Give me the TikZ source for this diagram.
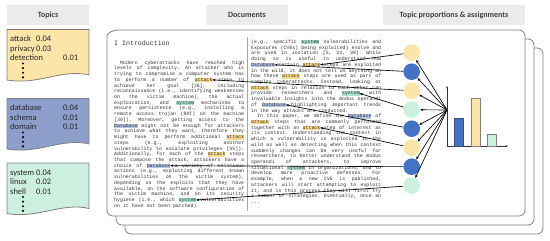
\documentclass[tikz,border=0pt]{standalone}
\usepackage{fontspec}
\setmainfont{Carlito}
\newfontfamily\monofont{Liberation Mono}
\usetikzlibrary{arrows.meta}

\definecolor{yellowT}{HTML}{FCE5A8}
\definecolor{blueT}{HTML}{4472C4}
\definecolor{mintT}{HTML}{CDEFDF}
\definecolor{slateT}{HTML}{8E9ECB}
\definecolor{hdrgray}{HTML}{EBEBEB}
\definecolor{cardline}{HTML}{7F7F7F}
\definecolor{hlyellow}{HTML}{F9D98A}
\definecolor{hlblue}{HTML}{B3C6E8}
\definecolor{hlgreen}{HTML}{A8E2C8}

\newlength\colw
\setlength\colw{130pt}
\newcommand\docfont{\monofont\fontsize{4.9pt}{5.7pt}\selectfont\frenchspacing\spaceskip=2.94pt plus 20pt minus 0.8pt\relax}
\newcommand\hlY[1]{{\setlength\fboxsep{0pt}\colorbox{hlyellow}{\rule[-1pt]{0pt}{4.6pt}#1}}}
\newcommand\hlB[1]{{\setlength\fboxsep{0pt}\colorbox{hlblue}{\rule[-1pt]{0pt}{4.6pt}#1}}}
\newcommand\hlG[1]{{\setlength\fboxsep{0pt}\colorbox{hlgreen}{\rule[-1pt]{0pt}{4.6pt}#1}}}

\begin{document}
\begin{tikzpicture}[x=1pt, y=-1pt,
    hdrbox/.style={fill=hdrgray, minimum width=82, minimum height=20, inner sep=0, text=black!75, font=\bfseries\fontsize{8}{9}\selectfont},
    card/.style={draw=cardline, line width=0.8pt},
    cardtxt/.style={anchor=base west, inner sep=0, text=black!85, font=\fontsize{8.5}{10}\selectfont},
    page/.style={draw=cardline, line width=0.8pt, fill=white},
    docline/.style={anchor=base west, inner sep=0, text=black!80, font=\docfont},
    tdot/.style={circle, minimum size=16.6, inner sep=0},
    link/.style={-{Stealth[length=3.2pt, width=2.6pt]}, line width=0.65pt},
    axis/.style={-{Stealth[length=2.6pt, width=2.2pt]}, line width=0.6pt, black!80}]

\useasboundingbox (0,0) rectangle (550,241);

% headers
\node[hdrbox] (hTopics) at (48,15) {Topics};
\node[hdrbox] (hDocs) at (247,15) {Documents};
\node[hdrbox, minimum width=142] (hProp) at (454,15) {Topic proportions \& assignments};

% topic cards
\foreach \yt/\col/\words [count=\k] in {29.5/yellowT/{attack/36/0.04,privacy/36/0.03,detection/63/0.01},
    98.5/slateT/{database/63/0.04,schema/63/0.01,domain/63/0.01},
    163/mintT/{system/36/0.04,linux/36/0.02,shell/36/0.01}} {
  \draw[card, fill=\col] (7,\yt) -- (89,\yt) -- (89,\yt+45.5) .. controls (62,\yt+39) and (38,\yt+56) .. (7,\yt+50.5) -- cycle;
  \foreach \w/\xn/\p [count=\j] in \words {
    \node[cardtxt] (w\k\j) at (10,{\yt+12+(\j-1)*9.5}) {\w};
    \node[cardtxt] (p\k\j) at (\xn,{\yt+12+(\j-1)*9.5}) {\p};
  }
  \foreach \j in {0,...,3}
    \fill (23,{\yt+34+\j*4.6}) circle (1.2);
}

% document stack
\draw[page, rounded corners=6] (125,48) rectangle (543,234);
\draw[page, rounded corners=6] (116,39) rectangle (534,225);
\draw[page] (107,42) .. controls (107,34) and (111,30) .. (119,30) [rounded corners=6] -- (525,30) -- (525,216) -- (107,216) -- cycle;
\draw[black!35, line width=0.6pt] (247,37) -- (247,211);

\node[docline, font=\monofont\fontsize{6.6pt}{8pt}\selectfont] (intro) at (114,45.5) {I Introduction};

% left column
\foreach \t [count=\i] in {
    {\hspace*{6pt}Modern cyberattacks have reached high},
    {levels of complexity. An attacker who is},
    {trying to compromise a computer system has},
    {to perform a number of \hlY{attack} steps to},
    {achieve her goal [26], including},
    {reconnaissance (i.e., identifying weaknesses},
    {on the victim machine), the actual},
    {exploitation, and \hlG{system} mechanisms to},
    {ensure persistence (e.g., installing a},
    {remote access trojan (RAT) on the machine},
    {[30]). Moreover, getting access to the},
    {\hlB{Database} might not be enough for attackers},
    {to achieve what they want, therefore they},
    {might have to perform additional \hlY{attack}},
    {steps (e.g., exploiting another},
    {vulnerability to escalate privileges [35]).},
    {Additionally, for each of the \hlY{attack} steps},
    {that compose the attack, attackers have a},
    {choice of \hlB{Database} a variety of malicious},
    {actions (e.g., exploiting different known},
    {vulnerabilities on the victim system),},
    {depending on the exploits that they have},
    {available, on the software configuration of},
    {the victim machine, and on its security},
    {hygiene (i.e., which \hlG{system} vulnerabilities},
    {on it have not been patched).\hfill}}
  \node[docline] (L\i) at (114,{64.2+(\i-1)*5.72}) {\makebox[\colw][s]{\t}};

% right column
\foreach \t [count=\i] in {
    {(e.g., specific \hlG{system} Vulnerabilities and},
    {Exposures (CVEs) being exploited) evolve and},
    {are used in isolation [5, 33, 39]. While},
    {doing so is useful to understand how},
    {\hlB{Database} certain \hlY{attack} steps are exploited},
    {in the wild, it does not tell us anything on},
    {how these \hlY{attack} steps are used as part of},
    {complex cyberattacks. Instead, looking at},
    {\hlY{attack} steps in relation to each other can},
    {provide researchers and \hlG{system} with},
    {invaluable insights into the modus operandi},
    {of \hlB{Database} highlighting important trends},
    {in the way attacks are conducted.\hfill},
    {\hspace*{6pt}In this paper, we define the \hlB{Database} of},
    {\hlY{attack} steps that are commonly performed},
    {together with an \hlY{attack} step of interest as},
    {its context. Understanding the context in},
    {which a vulnerability is exploited in the},
    {wild as well as detecting when this context},
    {suddenly changes can be very useful for},
    {researchers, to better understand the modus},
    {operandi of attackers, to improve},
    {situational \hlG{system} in organizations, and to},
    {develop more proactive defenses. For},
    {example, when a new CVE is published,},
    {attackers will start attempting to exploit},
    {it, and in this process they will first try},
    {a number of strategies. Eventually, once an}}
  \node[docline] (R\i) at (251,{43.4+(\i-1)*5.72}) {\makebox[\colw][s]{\t}};
\node[docline] (R29) at (251,{43.4+28*5.72}) {...};

% assigned words
\coordinate (t1) at ([xshift=69.05pt, yshift=1.5pt]R5.base west);
\coordinate (t2) at ([xshift=23.52pt, yshift=1.5pt]R5.base west);
\coordinate (t3) at ([xshift=98.32pt, yshift=1.5pt]L4.base west);
\coordinate (t4) at ([xshift=108.53pt, yshift=1.5pt]R10.base west);
\coordinate (t5) at ([xshift=34.70pt, yshift=1.5pt]R12.base west);
\coordinate (t6) at ([xshift=69.16pt, yshift=1.5pt]R16.base west);
\coordinate (t7) at ([xshift=56.08pt, yshift=1.5pt]L19.base west);
\coordinate (t8) at ([xshift=82.06pt, yshift=1.5pt]L25.base west);

% topic assignments
\foreach \col [count=\i] in {yellowT,blueT,yellowT,mintT,blueT,yellowT,blueT,mintT}
  \node[tdot, fill=\col] (c\i) at (411.7,{52.7+(\i-1)*19}) {};

\coordinate (org) at (447,146);
\coordinate (fan) at (447,110);
\foreach \i in {1,...,8} {
  \draw[link] (fan) -- (c\i);
  \draw[link] (c\i) -- (t\i);
}

% proportions
\draw[axis] (org) -- (447,86);
\draw[axis] (org) -- (508,146);
\draw[fill=blueT, draw=blueT!70!black, line width=0.7pt] (454.3,146) rectangle (463.3,118.3);
\draw[fill=yellowT, draw=cardline, line width=0.7pt] (471,146) rectangle (480,98.3);
\draw[fill=mintT, draw=cardline, line width=0.7pt] (487.7,146) rectangle (496.7,134);
\end{tikzpicture}
\end{document}
